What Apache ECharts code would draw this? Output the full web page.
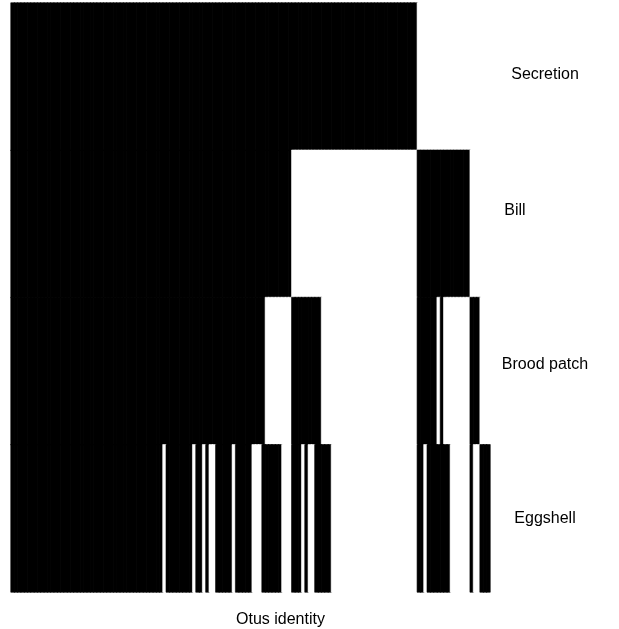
<!DOCTYPE html>
<html>
<head>
<meta charset="utf-8">
<script src="https://cdn.jsdelivr.net/npm/echarts@6/dist/echarts.min.js"></script>
<style>
  html, body { margin: 0; padding: 0; background: #fff; }
  #chart { width: 619px; height: 629px; }
</style>
</head>
<body>
<div id="chart"></div>
<script>
// trait rows, top to bottom
var traits = ['Secretion', 'Bill', 'Brood patch', 'Eggshell'];

// one digit per Otus column (1 = black, 0 = white)
var secretionRow = '1111111111111111111111111111111111111111111111111111111111111111111111111111111111111111111111111111111111111111111111111110000000000000000000000';
var billRow      = '1111111111111111111111111111111111111111111111111111111111111111111111111111111111111000000000000000000000000000000000000001111111111111111000000';
var broodRow     = '1111111111111111111111111111111111111111111111111111111111111111111111111111100000000111111111000000000000000000000000000001111110100000000111000';
var eggshellRow  = '1111111111111111111111111111111111111111111111011111111011010011111011111000111111000111010011111000000000000000000000000001101111111000000100111';

var rows = [secretionRow, billRow, broodRow, eggshellRow];
var nCols = secretionRow.length;

var cols = [];
for (var i = 0; i < nCols; i++) cols.push('Otus ' + (i + 1));

var data = [];
rows.forEach(function (r, y) {
	for (var x = 0; x < r.length; x++) {
		var v = +r.charAt(x);
		var c = v ? '#000000' : '#ffffff';
		// border in the same colour hides the seams between cells
		data.push({ value: [x, y, v], itemStyle: { color: c, borderColor: c, borderWidth: 0.6 } });
	}
});

// labels in the reference are not all centred on their rows
var labelStyles = {
	s0: { padding: [0, 0, 4, 0] },
	s1: { padding: [0, 60, 26, 0] },
	s2: { padding: [0, 0, 14, 0] },
	s3: { padding: [0, 0, 0, 0] }
};

var myChart = echarts.init(document.getElementById('chart'));
var option = {
	animation: false,
	textStyle: { fontFamily: 'Liberation Sans' },
	grid: { left: 11, top: 3, width: 479, height: 589, outerBoundsMode: 'none' },
	xAxis: {
		type: 'category',
		data: cols,
		name: 'Otus identity',
		nameLocation: 'middle',
		nameGap: 20,
		nameTextStyle: { color: '#000', fontSize: 16, padding: [0, 0, 0, 60] },
		axisLine: { show: false },
		axisTick: { show: false },
		axisLabel: { show: false },
		splitLine: { show: false }
	},
	yAxis: {
		type: 'category',
		data: traits,
		inverse: true,
		position: 'right',
		axisLine: { show: false },
		axisTick: { show: false },
		axisLabel: {
			color: '#000', fontSize: 16, align: 'center', margin: 55,
			formatter: function (val, idx) { return '{s' + idx + '|' + val + '}'; },
			rich: labelStyles
		},
		splitLine: { show: false }
	},
	series: [{
		type: 'heatmap',
		data: data,
		emphasis: { disabled: true }
	}]
};
myChart.setOption(option);
</script>
</body>
</html>
